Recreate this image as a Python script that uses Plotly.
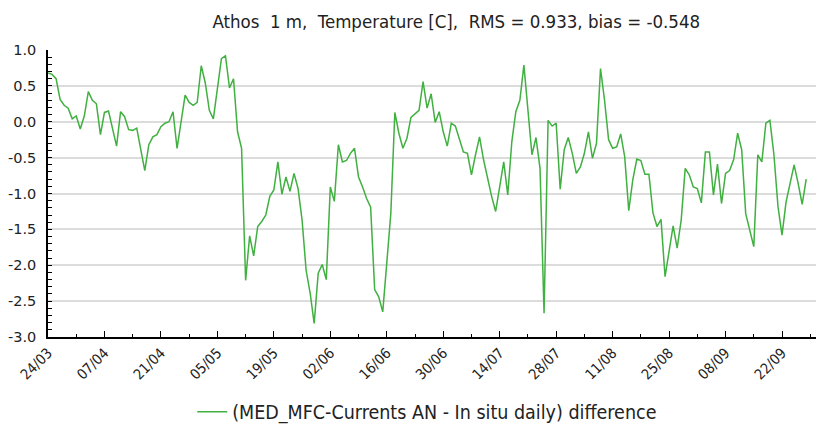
import datetime as dt
import plotly.graph_objects as go

start_date = dt.date(2019, 3, 24)

day_offsets = [
    0, 1, 2, 3, 4, 5, 6, 7, 8, 9, 10, 11, 12, 13, 14, 15, 17, 18, 19, 20, 21, 22, 24, 25, 26,
    27, 28, 29, 30, 31, 32, 34, 35, 36, 37, 38, 39, 40, 41, 43, 44, 45, 46, 47, 48, 49, 50, 51, 52, 53, 54,
    55, 56, 57, 58, 59, 60, 61, 62, 63, 64, 65, 66, 67, 68, 69, 70, 71, 72, 73, 74, 75, 76, 77, 78, 79, 80,
    81, 82, 83, 84, 85, 86, 87, 88, 89, 90, 91, 92, 93, 94, 95, 96, 97, 98, 99, 100, 101, 102, 103, 104, 105,
    106, 107, 108, 109, 110, 111, 112, 113, 114, 115, 116, 117, 118, 119, 120, 121, 122, 123, 124, 125, 126,
    127, 128, 129, 130, 131, 132, 133, 134, 135, 136,
    137, 138, 139, 140, 141, 142, 143, 144, 145, 146, 147, 148, 149, 150, 151, 152, 153, 155, 156, 157, 158,
    159, 160, 161, 162,
    163, 164, 165, 166, 167, 168, 169, 170, 171, 172, 173, 175, 176, 177, 178, 179, 180, 181, 182, 183, 184,
    185, 186, 187, 188,
]

differences = [
    0.68, 0.66, 0.60, 0.31, 0.23, 0.19, 0.04, 0.08, -0.10, 0.08, 0.42, 0.30, 0.25, -0.18, 0.13, 0.15, -0.34,
    0.14, 0.07, -0.11, -0.12, -0.09, -0.68, -0.32, -0.21,
    -0.18, -0.07, -0.02, 0.00, 0.14, -0.37, 0.37, 0.27, 0.23, 0.27, 0.78, 0.54, 0.16, 0.04, 0.88, 0.92, 0.47,
    0.60, -0.14, -0.37, -2.21, -1.59, -1.87, -1.46, -1.39, -1.30,
    -1.04, -0.95, -0.56, -1.01, -0.77, -0.97, -0.72, -0.93, -1.37, -2.07, -2.39, -2.81, -2.11, -1.99, -2.20,
    -0.91, -1.11, -0.32, -0.56, -0.54, -0.44, -0.37, -0.77, -0.91, -1.07, -1.19,
    -2.34, -2.44, -2.65, -1.97, -1.28, 0.13, -0.16, -0.37, -0.23, 0.06, 0.11, 0.16, 0.56, 0.19, 0.39, -0.01,
    0.14, -0.14, -0.34, -0.02, -0.06, -0.25, -0.42, -0.44, -0.74,
    -0.46, -0.21, -0.53, -0.81, -1.04, -1.25, -0.93, -0.56, -1.02, -0.28, 0.14, 0.30, 0.79, 0.14, -0.46, -0.22,
    -0.65, -2.67, 0.02, -0.06, -0.02,
    -0.94, -0.39, -0.22, -0.44, -0.72, -0.63, -0.44, -0.14, -0.51, -0.30,
    0.74, 0.30, -0.25, -0.37, -0.35, -0.17, -0.49, -1.24, -0.81, -0.52, -0.54, -0.73, -0.73, -1.27, -1.46,
    -1.36, -2.16, -1.45, -1.76, -1.37, -0.65,
    -0.74, -0.91, -0.93, -1.13,
    -0.42, -0.42, -1.02, -0.59, -1.14, -0.72, -0.68, -0.53, -0.16, -0.39, -1.28, -1.74, -0.46, -0.56, -0.02,
    0.02, -0.46, -1.18, -1.58, -1.12,
    -0.88, -0.60, -0.86, -1.15, -0.80,
]

title_text = "Athos  1 m,  Temperature [C],  RMS = 0.933, bias = -0.548"
series_name = "(MED_MFC-Currents AN - In situ daily) difference"
y_tick_values = [-3.0, -2.5, -2.0, -1.5, -1.0, -0.5, 0.0, 0.5, 1.0]
y_tick_labels = ["-3.0", "-2.5", "-2.0", "-1.5", "-1.0", "-0.5", "0.0", "0.5", "1.0"]

dates = [start_date + dt.timedelta(days=d) for d in day_offsets]

fig = go.Figure()
fig.add_trace(go.Scatter(
    x=dates, y=differences, mode="lines", name=series_name,
    line=dict(color="#40b040", width=1.5),
))

# the page body adds an 8 px margin, so margins are shifted by 8 px
fig.update_layout(
    width=824, height=424,
    margin=dict(l=40, r=10, t=42, b=95, autoexpand=False),
    paper_bgcolor="white", plot_bgcolor="white",
    title=dict(text=title_text, x=0.544, xanchor="center", y=0.969, yanchor="middle",
               font=dict(family="DejaVu Sans Condensed", size=18.5, color="#222222")),
    showlegend=True,
    legend=dict(orientation="h", x=0.49, xanchor="center",
                yref="container", y=0.047, yanchor="middle",
                font=dict(family="DejaVu Sans Condensed", size=19.5, color="#222222"),
                itemwidth=30),
    font=dict(family="DejaVu Sans", color="#222222"),
)

fig.update_xaxes(
    type="date", automargin=False,
    range=[dt.datetime(2019, 3, 24), dt.datetime(2019, 10, 1, 22)],
    tick0="2019-03-24", dtick=14 * 86400000, tickformat="%d/%m",
    tickangle=-45, ticks="inside", ticklen=6, tickcolor="black",
    minor=dict(dtick=7 * 86400000, ticks="inside", ticklen=3, tickcolor="black", showgrid=False),
    showgrid=False, showline=True, linecolor="black", linewidth=1.5,
    tickfont=dict(family="DejaVu Sans Condensed", size=14.5, color="#222222"),
    zeroline=False,
)
fig.update_yaxes(
    automargin=False,
    range=[-3.0, 1.0], tickvals=y_tick_values, ticktext=y_tick_labels,
    ticks="inside", ticklen=4, tickcolor="black",
    minor=dict(dtick=0.1, ticks="inside", ticklen=4, tickcolor="black", showgrid=False),
    showgrid=True, gridcolor="#dcdcdc", gridwidth=1.5,
    showline=True, linecolor="black", linewidth=1.5, zeroline=False,
    ticklabelstandoff=7,
    tickfont=dict(family="DejaVu Sans", size=14.5, color="#222222"),
)

fig.write_html("out.html")
